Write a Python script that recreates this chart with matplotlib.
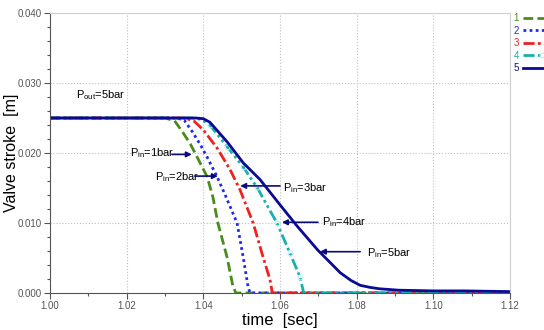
import numpy as np
import matplotlib
matplotlib.use('Agg')
import matplotlib.pyplot as plt
from matplotlib.ticker import MultipleLocator, FormatStrFormatter

plt.rcParams['font.family'] = ['Liberation Sans', 'DejaVu Sans']

# curve data (time [s], stroke [m])
t1 = [1.000, 1.030, 1.0325, 1.0347, 1.0366, 1.0384, 1.0410, 1.0425, 1.0438, 1.0462, 1.0477, 1.0485, 1.120]
y1 = [0.025, 0.025, 0.0246, 0.0229, 0.0213, 0.0194, 0.0166, 0.0137, 0.0100, 0.0051, 0.0010, 0.0, 0.0]

t2 = [1.000, 1.033, 1.0350, 1.0373, 1.0392, 1.0410, 1.0436, 1.0457, 1.0488, 1.0504, 1.0517, 1.0522, 1.120]
y2 = [0.025, 0.025, 0.0247, 0.0229, 0.0212, 0.0194, 0.0166, 0.0140, 0.0100, 0.0051, 0.0008, 0.0, 0.0]

t3 = [1.000, 1.035, 1.0375, 1.0400, 1.0436, 1.0470, 1.0496, 1.0530, 1.0556, 1.0574, 1.0580, 1.120]
y3 = [0.025, 0.025, 0.0246, 0.0233, 0.0207, 0.0176, 0.0147, 0.0100, 0.0051, 0.0019, 0.0, 0.0]

t4 = [1.000, 1.037, 1.0395, 1.0417, 1.0462, 1.0504, 1.0540, 1.0592, 1.0626, 1.0652, 1.0662, 1.120]
y4 = [0.025, 0.025, 0.0248, 0.0240, 0.0209, 0.0180, 0.0151, 0.0100, 0.0057, 0.0023, 0.0, 0.0]

t5 = [1.000, 1.038, 1.0400, 1.0417, 1.0462, 1.0504, 1.0548, 1.0600, 1.0644, 1.0699, 1.0730,
      1.0757, 1.0785, 1.0809, 1.0835, 1.0860, 1.0910, 1.1000, 1.1080, 1.120]
y5 = [0.025, 0.025, 0.0249, 0.0244, 0.0216, 0.0186, 0.0162, 0.0126, 0.0096, 0.0061, 0.0044,
      0.0029, 0.0018, 0.0011, 0.0008, 0.0006, 0.0004, 0.0003, 0.0003, 0.0002]

labels = ['1', '2', '3', '4', '5']
colors = ['#4a8c1c', '#1f2bea', '#f02020', '#1aaeb0', '#0a0a96']

# annotation text, anchor (left, middle) and arrow tail -> tip
notes = [r'P$_\mathregular{in}$=1bar', r'P$_\mathregular{in}$=2bar', r'P$_\mathregular{in}$=3bar',
         r'P$_\mathregular{in}$=4bar', r'P$_\mathregular{in}$=5bar']
note_xy = [(1.0209, 0.0200), (1.0274, 0.01657), (1.0608, 0.0150), (1.0710, 0.01014), (1.0827, 0.0057)]
arrow_tail = [(1.0318, 0.0198), (1.0378, 0.0167), (1.0600, 0.0153), (1.0699, 0.0101), (1.0809, 0.0059)]
arrow_tip = [(1.0370, 0.0198), (1.0438, 0.0167), (1.0496, 0.0153), (1.0605, 0.0101), (1.0704, 0.0059)]

fig = plt.figure(figsize=(5.44, 3.30), dpi=100)
ax = fig.add_axes([50 / 544, 1 - 293 / 330, 460 / 544, 280 / 330])

ax.plot(t1, y1, color=colors[0], lw=2, ls=(0, (3.5, 1.5)), label=labels[0])
ax.plot(t2, y2, color=colors[1], lw=2, ls=(0, (1, 1.2)), label=labels[1])
ax.plot(t3, y3, color=colors[2], lw=2, ls=(0, (4, 1.2, 1, 1.2)), label=labels[2])
ax.plot(t4, y4, color=colors[3], lw=2, ls=(0, (4, 1.2, 1, 1.2, 1, 1.2)), label=labels[3],
        marker='o', ms=3.5, mfc='none', mec='#bfeeee', mew=0.8, markevery=slice(3, 10))
ax.plot(t5, y5, color=colors[4], lw=2, label=labels[4])

ax.text(1.0068, 0.0283, r'P$_\mathregular{out}$=5bar', fontsize=8, va='center', ha='left')
for s, (x, y), tail, tip in zip(notes, note_xy, arrow_tail, arrow_tip):
    ax.text(x, y, s, fontsize=8, va='center', ha='left')
    ax.annotate('', xy=tip, xytext=tail,
                arrowprops=dict(arrowstyle='-|>', color='#0a0a80', lw=1.2, mutation_scale=8,
                                shrinkA=0, shrinkB=0))

ax.set_xlim(1.00, 1.12)
ax.set_ylim(0.0, 0.040)
ax.xaxis.set_major_locator(MultipleLocator(0.02))
ax.xaxis.set_minor_locator(MultipleLocator(0.01))
ax.yaxis.set_major_locator(MultipleLocator(0.010))
ax.yaxis.set_minor_locator(MultipleLocator(0.002))
ax.xaxis.set_major_formatter(FormatStrFormatter('%.2f'))
ax.yaxis.set_major_formatter(FormatStrFormatter('%.3f'))
ax.tick_params(axis='both', which='major', labelsize=7, labelcolor='#555555', color='#555555',
               length=4, width=0.8, direction='out', pad=2)
ax.tick_params(axis='both', which='minor', color='#555555', length=2.5, width=0.8, direction='out')
ax.grid(True, which='major', ls=':', color='#c0c0c0', lw=0.8)

for side in ['top', 'right']:
    ax.spines[side].set_color('#d0d0d0')
for side in ['left', 'bottom']:
    ax.spines[side].set_color('#555555')

ax.set_xlabel('time  [sec]', fontsize=12, va='center')
ax.set_ylabel('Valve stroke  [m]', fontsize=11.5, va='center')
ax.yaxis.set_label_coords(-38 / 460, 0.5)
ax.xaxis.set_label_coords(0.5, -28 / 280)

ax.legend(loc='upper left', bbox_to_anchor=(0.995, 1.02), frameon=False, markerfirst=False,
          labelcolor='linecolor', fontsize=7, handlelength=4, handletextpad=0.4,
          labelspacing=0.25, borderaxespad=0.2)

fig.savefig('out.png', dpi=100)
